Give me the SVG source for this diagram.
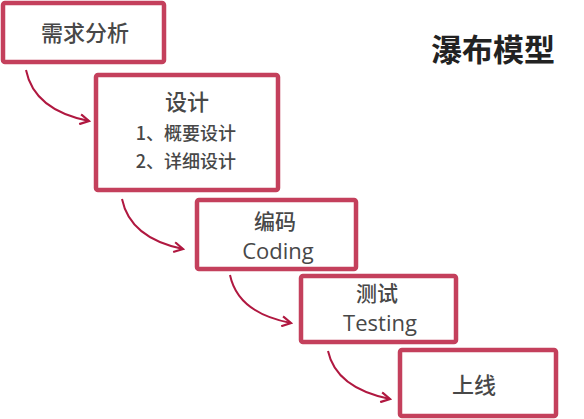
<svg xmlns="http://www.w3.org/2000/svg" width="584" height="419" viewBox="0 0 584 419">
<style>
.box{fill:#fff;stroke:#c4405c;stroke-width:4.5;}
.t{font-family:"Noto Sans CJK SC","Liberation Sans",sans-serif;fill:#484848;text-anchor:middle;font-weight:500;}
.e{font-family:"Open Sans","Liberation Sans",sans-serif;fill:#484848;text-anchor:middle;}
.c{fill:none;stroke:#b01840;stroke-width:2;}
</style>
<defs>
<marker id="ah" viewBox="0 0 12 12" refX="10" refY="6" markerWidth="12" markerHeight="12" markerUnits="userSpaceOnUse" orient="auto">
<path d="M1,1 L10,6 L1,11" fill="none" stroke="#b01840" stroke-width="2.2"/>
</marker>
</defs>
<rect width="584" height="419" fill="#fff"/>
<text x="493" y="61" font-family="'Noto Sans CJK SC',sans-serif" font-size="31" font-weight="bold" fill="#222" text-anchor="middle">瀑布模型</text>
<g id="n1"><rect class="box" x="3" y="3" width="161" height="59" rx="2"/><text class="t" x="85" y="41" font-size="22">需求分析</text></g>
<g id="n2"><rect class="box" x="96" y="75" width="182" height="115" rx="2"/><text class="t" x="187" y="110" font-size="22">设计</text><text class="t" x="186" y="140" font-size="18">1、概要设计</text><text class="t" x="186" y="168" font-size="18">2、详细设计</text></g>
<g id="n3"><rect class="box" x="197" y="200" width="159" height="69" rx="2"/><text class="t" x="275" y="229" font-size="21">编码</text><text class="e" x="278" y="259" font-size="22">Coding</text></g>
<g id="n4"><rect class="box" x="301" y="276" width="155" height="66" rx="2"/><text class="t" x="377" y="301" font-size="21">测试</text><text class="e" x="380" y="331" font-size="22">Testing</text></g>
<g id="n5"><rect class="box" x="400" y="350" width="156" height="66" rx="2"/><text class="t" x="474" y="393" font-size="22">上线</text></g>
<g id="connectors">
<path class="c" d="M26,70 Q34,110 89,121" marker-end="url(#ah)"/>
<path class="c" d="M122,199 Q130,238 183,249" marker-end="url(#ah)"/>
<path class="c" d="M230,275 Q238,313 291,323" marker-end="url(#ah)"/>
<path class="c" d="M328,351 Q336,388 390,399" marker-end="url(#ah)"/>
</g>
</svg>
